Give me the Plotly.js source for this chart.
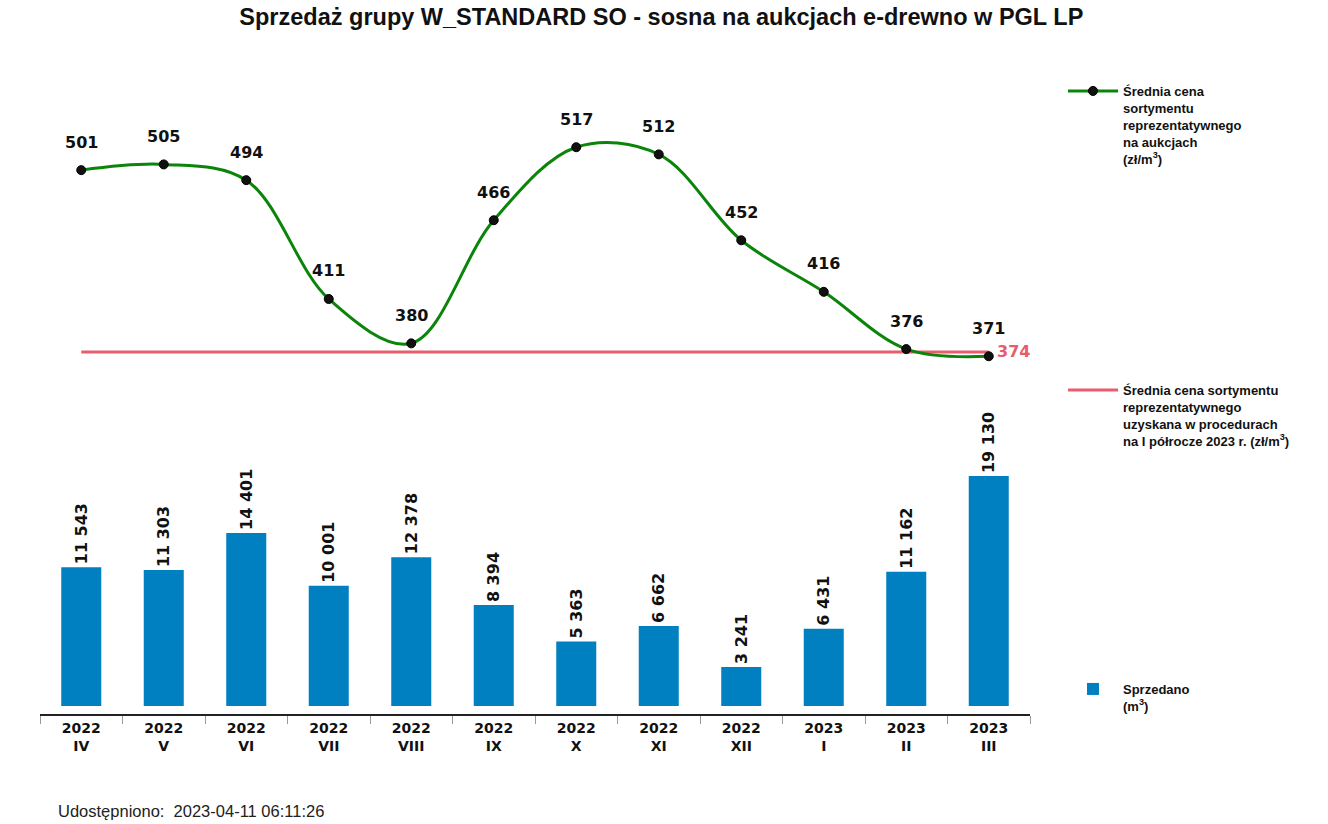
<!DOCTYPE html>
<html>
<head>
<meta charset="utf-8">
<script src="https://cdn.plot.ly/plotly-3.0.1.min.js"></script>
<style>html,body{margin:0;padding:0;background:#fff;}#chart{width:1328px;height:824px;}</style>
</head>
<body>
<div id="chart"></div>
<script>
const categories = ["2022<br>IV","2022<br>V","2022<br>VI","2022<br>VII","2022<br>VIII","2022<br>IX","2022<br>X","2022<br>XI","2022<br>XII","2023<br>I","2023<br>II","2023<br>III"];
const avgPrice = [501,505,494,411,380,466,517,512,452,416,376,371];
const soldVolume = [11543,11303,14401,10001,12378,8394,5363,6662,3241,6431,11162,19130];
const refPrice = 374;
const refPriceSeries = categories.map(() => refPrice);

const titleText = "Sprzedaż grupy W_STANDARD SO - sosna na aukcjach e-drewno w PGL LP";
const legendLine = "Średnia cena<br>sortymentu<br>reprezentatywnego<br>na aukcjach<br>(zł/m<sup>3</sup>)";
const legendRef = "Średnia cena sortymentu<br>reprezentatywnego<br>uzyskana w procedurach<br>na I półrocze 2023 r. (zł/m<sup>3</sup>)";
const legendBar = "Sprzedano<br>(m<sup>3</sup>)";
const footer = "Udostępniono:  2023-04-11 06:11:26";

const numFont = {family: "DejaVu Sans", size: 16, color: "#111", weight: "bold"};
const legFont = {family: "Liberation Sans, Arial", size: 13, color: "#111", weight: "bold"};

const traces = [
  {
    type: "bar", x: categories, y: soldVolume, xaxis: "x", yaxis: "y",
    name: legendBar, legend: "legend3",
    marker: {color: "#0080C0"},
    text: soldVolume.map(v => v.toLocaleString("en-US").replace(/,/g, " ")),
    textposition: "outside", textangle: -90, constraintext: "none", cliponaxis: false,
    textfont: numFont, hoverinfo: "skip"
  },
  {
    type: "scatter", mode: "lines", x: categories, y: refPriceSeries, xaxis: "x", yaxis: "y2",
    name: legendRef, legend: "legend2",
    line: {color: "#E85D6C", width: 3}, cliponaxis: false, hoverinfo: "skip"
  },
  {
    type: "scatter", mode: "lines+markers", x: categories, y: avgPrice, xaxis: "x", yaxis: "y2",
    name: legendLine, legend: "legend",
    line: {color: "#0A850A", width: 3, shape: "spline", smoothing: 1},
    marker: {color: "#111", size: 9, line: {color: "#000", width: 1}},
    cliponaxis: false, hoverinfo: "skip"
  }
];

const annotations = avgPrice.map((v, i) => ({
  x: categories[i], y: v, xref: "x", yref: "y2", text: String(v),
  showarrow: false, yshift: 28, font: numFont
}));
annotations.push({
  x: categories[categories.length - 1], y: refPrice, xref: "x", yref: "y2",
  text: String(refPrice), showarrow: false, xanchor: "left", xshift: 6,
  font: {family: "DejaVu Sans", size: 16, color: "#E85D6C", weight: "bold"}
});
annotations.push({
  xref: "paper", yref: "paper", x: (56 - 40) / 990, y: (714 - 811) / 654,
  xanchor: "left", yanchor: "middle", text: footer, showarrow: false,
  font: {family: "Liberation Sans, Arial", size: 16.5, color: "#222"}
});

const legCommon = {xref: "container", yref: "container", xanchor: "left", yanchor: "top",
  valign: "top", font: legFont, bgcolor: "rgba(0,0,0,0)", itemwidth: 50};

const layout = {
  width: 1328, height: 824,
  margin: {l: 40, r: 298, t: 60, b: 110},
  paper_bgcolor: "#fff", plot_bgcolor: "#fff",
  showlegend: true, hovermode: false, bargap: 0.515,
  title: {text: titleText, x: 0.498, xref: "container", y: 1 - 17/824, yref: "container", yanchor: "middle",
    font: {family: "Liberation Sans, Arial", size: 23.5, color: "#111", weight: "bold"}},
  xaxis: {
    type: "category", range: [-0.5, 11.5], showgrid: false, zeroline: false,
    showline: true, linecolor: "#222", linewidth: 2,
    ticks: "outside", ticklen: 8, tickcolor: "#999", tickson: "boundaries",
    tickfont: {family: "DejaVu Sans", size: 14, color: "#111", weight: "bold"},
    anchor: "y", fixedrange: true
  },
  yaxis: {domain: [0, 0.419], range: [-665, 22130], visible: false, fixedrange: true},
  yaxis2: {domain: [0.526, 0.908], range: [361.4, 535.9], visible: false, fixedrange: true},
  legend: Object.assign({}, legCommon, {x: 1063/1328, y: 1 - 76/824}),
  legend2: Object.assign({}, legCommon, {x: 1063/1328, y: 1 - 375/824}),
  legend3: Object.assign({}, legCommon, {x: 1063/1328, y: 1 - 674/824}),
  annotations: annotations
};

Plotly.newPlot("chart", traces, layout, {displayModeBar: false, staticPlot: true});
</script>
</body>
</html>
